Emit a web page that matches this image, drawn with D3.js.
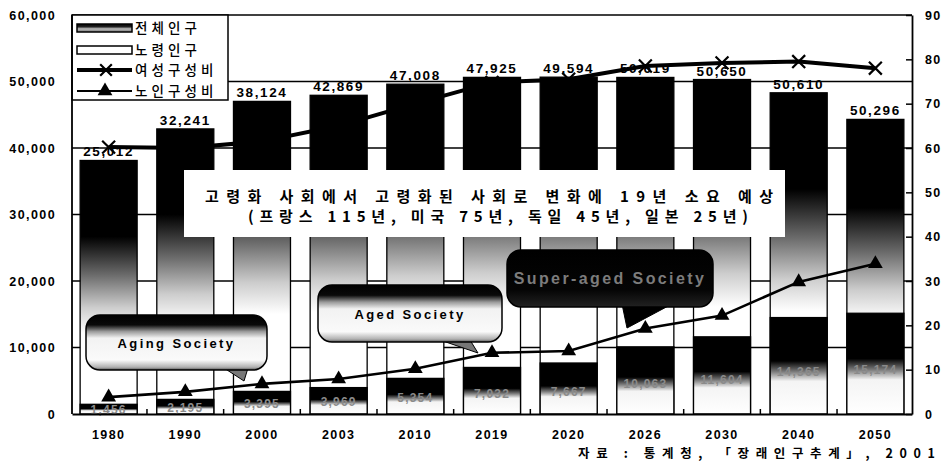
<!DOCTYPE html>
<html><head><meta charset="utf-8">
<script src="https://cdn.jsdelivr.net/npm/d3@7"></script>
<style>body{margin:0;background:#fff}svg{display:block}</style>
</head><body>
<svg id="c" width="943" height="462"></svg>
<script>
// ---- data ----
const years = ["1980","1990","2000","2003","2010","2019","2020","2026","2030","2040","2050"];
const totalPop = [38124, 42869, 47008, 47925, 49594, 50619, 50650, 50610, 50296, 48300, 44300];
const totalLabels = ["25,012","32,241","38,124","42,869","47,008","47,925","49,594","50,619","50,650","50,610","50,296"];
const elderPop = [1456, 2195, 3395, 3969, 5354, 7000, 7667, 10100, 11604, 14500, 15150];
const elderLabels = ["1,456","2,195","3,395","3,969","5,354","7,032","7,667","10,063","11,604","14,365","15,174"];
const femaleRatio = [60.2, 60.0, 61.5, 65.0, 70.0, 74.8, 75.5, 78.5, 79.2, 79.5, 78.0];
const elderRatio = [3.8, 5.0, 6.8, 7.9, 10.2, 13.8, 14.2, 19.3, 22.2, 29.8, 33.9];
const leftTicks = [0, 10000, 20000, 30000, 40000, 50000, 60000];
const rightTicks = [0, 10, 20, 30, 40, 50, 60, 70, 80, 90];
const legendItems = ["전체인구", "노령인구", "여성구성비", "노인구성비"];
const bannerLines = ["고령화 사회에서 고령화된 사회로 변화에 19년 소요 예상", "(프랑스 115년, 미국 75년, 독일 45년, 일본 25년)"];
const callouts = ["Aging Society", "Aged Society", "Super-aged Society"];
const sourceText = "자료 : 통계청, 「장래인구추계」, 2001";

// ---- layout ----
const svg = d3.select("#c");
const L = 72, R = 912, T = 15, B = 414;
const x = d3.scaleBand().domain(years).range([L, R]).paddingInner(0.2565).paddingOuter(0.106);
const yL = d3.scaleLinear().domain([0, 60000]).range([B, T]);
const yR = d3.scaleLinear().domain([0, 90]).range([B, T]);
const cx = d => x(d) + x.bandwidth() / 2;
const numFont = "'Liberation Sans', Arial, sans-serif";
const krFont = "'Noto Sans CJK KR', 'Noto Sans', sans-serif";

const defs = svg.append("defs");
function grad(id, stops) {
  const g = defs.append("linearGradient").attr("id", id)
    .attr("x1", 0).attr("y1", 0).attr("x2", 0).attr("y2", 1);
  stops.forEach(([o, c]) => g.append("stop").attr("offset", o).attr("stop-color", c));
}
grad("gTotal", [[0, "#000"], [0.3, "#000"], [0.45, "#6a6a6a"], [0.58, "#cdcdcd"], [0.68, "#fff"], [1, "#fff"]]);
grad("gElder", [[0, "#000"], [0.45, "#000"], [0.56, "#7a7a7a"], [0.66, "#f4f4f4"], [1, "#fff"]]);
grad("gCallout", [[0, "#000"], [0.18, "#0a0a0a"], [0.3, "#9a9a9a"], [0.42, "#f2f2f2"], [0.82, "#fafafa"], [0.95, "#b0b0b0"], [1, "#555"]]);
grad("gDark", [[0, "#000"], [0.7, "#050505"], [1, "#222"]]);
grad("gSwatch", [[0, "#000"], [0.35, "#222"], [0.6, "#bbb"], [1, "#777"]]);

// total labels (drawn under gridlines like the scan)
svg.append("g").selectAll("text").data(years).join("text")
  .attr("x", d => cx(d)).attr("y", (d, i) => yL(totalPop[i]) - 4)
  .attr("text-anchor", "middle").attr("font-family", numFont).attr("font-weight", "bold")
  .attr("font-size", 13.5).attr("letter-spacing", 1.6).attr("fill", "#000")
  .text((d, i) => totalLabels[i]);

// gridlines
svg.append("g").selectAll("line").data(leftTicks.slice(1)).join("line")
  .attr("x1", L).attr("x2", R).attr("y1", d => yL(d)).attr("y2", d => yL(d))
  .attr("stroke", "#000").attr("stroke-width", 1.5);

// total population bars
svg.append("g").selectAll("rect").data(years).join("rect")
  .attr("x", d => x(d)).attr("width", x.bandwidth())
  .attr("y", (d, i) => yL(totalPop[i])).attr("height", (d, i) => B - yL(totalPop[i]))
  .attr("fill", "url(#gTotal)").attr("stroke", "#000").attr("stroke-width", 1.3);

// elderly population bars
svg.append("g").selectAll("rect").data(years).join("rect")
  .attr("x", d => x(d)).attr("width", x.bandwidth())
  .attr("y", (d, i) => yL(elderPop[i])).attr("height", (d, i) => B - yL(elderPop[i]))
  .attr("fill", "url(#gElder)").attr("stroke", "#000").attr("stroke-width", 1.3);

svg.append("g").selectAll("text").data(years).join("text")
  .attr("x", d => cx(d))
  .attr("y", (d, i) => yL(elderPop[i]) + (B - yL(elderPop[i])) * 0.56 + 4)
  .attr("text-anchor", "middle").attr("font-family", numFont).attr("font-weight", "bold")
  .attr("font-size", 12).attr("letter-spacing", 1.2).attr("fill", "#8a8a8a")
  .text((d, i) => elderLabels[i]);

// female ratio line
const lineF = d3.line().x((d, i) => cx(years[i])).y(d => yR(d));
svg.append("path").datum(femaleRatio).attr("d", lineF)
  .attr("fill", "none").attr("stroke", "#000").attr("stroke-width", 4).attr("stroke-linejoin", "round");
svg.append("g").selectAll("path").data(femaleRatio).join("path")
  .attr("transform", (d, i) => `translate(${cx(years[i])},${yR(d)})`)
  .attr("d", d3.symbol(d3.symbolTimes, 110))
  .attr("fill", "none").attr("stroke", "#000").attr("stroke-width", 2.2);

// elderly ratio line
svg.append("path").datum(elderRatio).attr("d", lineF)
  .attr("fill", "none").attr("stroke", "#000").attr("stroke-width", 2.6);
svg.append("g").selectAll("path").data(elderRatio).join("path")
  .attr("transform", (d, i) => `translate(${cx(years[i])},${yR(d)})`)
  .attr("d", d3.symbol(d3.symbolTriangle, 95)).attr("fill", "#000");

// callouts
function callout(x0, y0, w, h, tail, fill, text, tcol, fs) {
  const g = svg.append("g");
  g.append("path").attr("d", `M${tail[0][0]},${tail[0][1]}L${tail[1][0]},${tail[1][1]}L${tail[2][0]},${tail[2][1]}Z`)
    .attr("fill", fill === "dark" ? "#000" : "#777").attr("stroke", "#000").attr("stroke-width", 1);
  g.append("rect").attr("x", x0).attr("y", y0).attr("width", w).attr("height", h)
    .attr("rx", 14).attr("ry", 14)
    .attr("fill", fill === "dark" ? "url(#gDark)" : "url(#gCallout)")
    .attr("stroke", "#000").attr("stroke-width", 1.5);
  g.append("text").attr("x", x0 + w / 2).attr("y", y0 + h * 0.5 + 5)
    .attr("text-anchor", "middle").attr("font-family", numFont).attr("font-weight", "bold")
    .attr("font-size", fs).attr("letter-spacing", 2.4).attr("fill", tcol).text(text);
}
callout(86, 315, 181, 55, [[224, 368], [248, 368], [244, 381]], "light", callouts[0], "#000", 13);
callout(318, 285, 184, 57, [[440, 340], [470, 340], [478, 353]], "light", callouts[1], "#000", 13);
callout(507, 250, 206, 57, [[622, 304], [672, 304], [627, 328]], "dark", callouts[2], "#7c7c7c", 16);

// banner
svg.append("rect").attr("x", 184).attr("y", 170).attr("width", 601).attr("height", 67)
  .attr("fill", "#fff");
svg.append("text").attr("x", 205).attr("y", 202).attr("font-family", krFont).attr("font-weight", "bold")
  .attr("font-size", 15).attr("textLength", 568).attr("lengthAdjust", "spacing").text(bannerLines[0]);
svg.append("text").attr("x", 248).attr("y", 222).attr("font-family", krFont).attr("font-weight", "bold")
  .attr("font-size", 15).attr("textLength", 500).attr("lengthAdjust", "spacing").text(bannerLines[1]);

// legend
const lg = svg.append("g");
lg.append("rect").attr("x", L).attr("y", T).attr("width", 156).attr("height", 85)
  .attr("fill", "#fff").attr("stroke", "#000").attr("stroke-width", 1.5);
const ly = [28, 50, 70, 91];
lg.append("rect").attr("x", 77).attr("y", 24).attr("width", 55).attr("height", 8)
  .attr("fill", "url(#gSwatch)").attr("stroke", "#000").attr("stroke-width", 1.5);
lg.append("rect").attr("x", 77).attr("y", 46).attr("width", 55).attr("height", 8)
  .attr("fill", "#fff").attr("stroke", "#000").attr("stroke-width", 1.5);
lg.append("line").attr("x1", 77).attr("x2", 132).attr("y1", ly[2]).attr("y2", ly[2])
  .attr("stroke", "#000").attr("stroke-width", 4);
lg.append("path").attr("transform", `translate(106,${ly[2]})`).attr("d", d3.symbol(d3.symbolTimes, 90))
  .attr("fill", "none").attr("stroke", "#000").attr("stroke-width", 2.2);
lg.append("line").attr("x1", 77).attr("x2", 132).attr("y1", ly[3]).attr("y2", ly[3])
  .attr("stroke", "#000").attr("stroke-width", 2.2);
lg.append("path").attr("transform", `translate(105,${ly[3]})`).attr("d", d3.symbol(d3.symbolTriangle, 95))
  .attr("fill", "#000");
lg.selectAll("text").data(legendItems).join("text")
  .attr("x", 135).attr("y", (d, i) => ly[i] + 5).attr("font-family", krFont).attr("font-weight", 500)
  .attr("font-size", 13.5).attr("textLength", d => d.length * 16.5 - 4).attr("lengthAdjust", "spacing")
  .attr("fill", "#000").text(d => d);

// axes
const axL = svg.append("g").attr("transform", `translate(${L},0)`)
  .call(d3.axisLeft(yL).tickValues(leftTicks).tickSize(0).tickPadding(16).tickFormat(d3.format(",")));
const axR = svg.append("g").attr("transform", `translate(${R},0)`)
  .call(d3.axisRight(yR).tickValues(rightTicks).tickSizeInner(-6).tickSizeOuter(0).tickPadding(13));
const axB = svg.append("g").attr("transform", `translate(0,${B})`)
  .call(d3.axisBottom(x).tickSize(0).tickPadding(16));
[axL, axR, axB].forEach(a => {
  a.select(".domain").attr("stroke", "#000").attr("stroke-width", 1.8);
  a.selectAll("line").attr("stroke", "#000").attr("stroke-width", 1.5);
  a.selectAll("text").attr("font-family", numFont).attr("font-weight", "bold")
    .attr("font-size", 12.5).attr("letter-spacing", 1.4).attr("fill", "#000");
});
axL.select(".domain").attr("d", `M0,${T}V${B}`);
// boundary ticks between categories on the baseline
const bounds = years.slice(0, -1).map((d, i) => (x(d) + x.bandwidth() + x(years[i + 1])) / 2);
svg.append("g").selectAll("line").data(bounds).join("line")
  .attr("x1", d => d).attr("x2", d => d).attr("y1", B).attr("y2", B - 5)
  .attr("stroke", "#000").attr("stroke-width", 1.5);

// source
svg.append("text").attr("x", 578).attr("y", 458).attr("font-family", krFont).attr("font-weight", "bold")
  .attr("font-size", 12.5).attr("textLength", 357).attr("lengthAdjust", "spacing").text(sourceText);
</script>
</body></html>
